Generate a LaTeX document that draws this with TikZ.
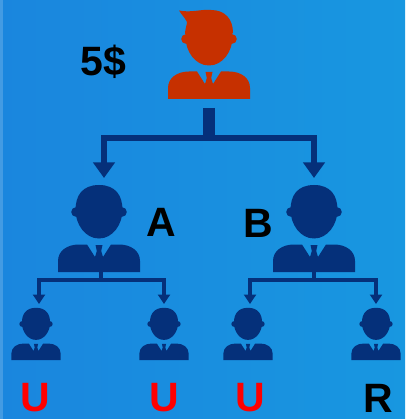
\documentclass[tikz,border=0pt]{standalone}
\usepackage{fontspec}
\setmainfont{Liberation Sans}
\usetikzlibrary{arrows.meta}
\definecolor{navy}{HTML}{05307A}
\definecolor{rust}{HTML}{C63000}
\definecolor{bgL}{HTML}{1A86DE}
\definecolor{bgR}{HTML}{1897E0}
\definecolor{wrong}{HTML}{FF0000}
\tikzset{
  personbody/.pic={
    \fill (0,-27) .. controls (17,-27) and (23.5,-16) .. (23.5,-2)
      .. controls (23.5,12) and (14,26.5) .. (0,26.5)
      .. controls (-14,26.5) and (-23.5,12) .. (-23.5,-2)
      .. controls (-23.5,-16) and (-17,-27) .. (0,-27) -- cycle;
    \fill (-23,0) circle (4.8);
    \fill (23,0) circle (4.8);
    \fill (-41,60) -- (-41,49) .. controls (-41,39) and (-32,32.5) .. (-20,32.5)
      -- (-12,32.5) -- (-4,45) -- (-2.2,39) -- (-3.5,33) -- (3.5,33) -- (2.2,39)
      -- (4,45) -- (12,32.5) -- (20,32.5) .. controls (32,32.5) and (41,39) .. (41,49)
      -- (41,60) -- cycle;
  },
  hairtuft/.pic={
    \fill (-30,-28.5) .. controls (-18,-26) and (-8,-30) .. (2,-29)
      .. controls (16,-29) and (24,-20) .. (24,-6) -- (-24,-5)
      .. controls (-24,-10) and (-22,-14) .. (-22,-17) .. controls (-24,-21) and (-28,-25) .. (-30,-28.5) -- cycle;
  },
  stemline/.style={draw=navy,line cap=butt,line join=miter},
  thick1/.style={stemline,line width=6.5pt},
  thick2/.style={stemline,line width=4pt},
  tipa/.style={-{Triangle[length=15.5pt,width=21pt]}},
  tipb/.style={-{Triangle[length=9.5pt,width=12pt]}},
  labelb/.style={font=\fontsize{41}{41}\selectfont\bfseries,text=black,inner sep=0pt},
  labelu/.style={font=\fontsize{41}{41}\selectfont\bfseries,text=wrong,inner sep=0pt},
}
\begin{document}
\begin{tikzpicture}[x=1pt,y=-1pt]
\useasboundingbox (0,0) rectangle (405,419);
\shade[left color=bgL,right color=bgR] (0,0) rectangle (405,419);
\fill[white,opacity=.18] (0,0) rectangle (2.5,419);
% persons
\pic[fill=rust] at (209,39) {personbody};
\pic[fill=rust] at (209,39) {hairtuft};
\pic[fill=navy] at (99,212) {personbody};
\pic[fill=navy] at (314,212) {personbody};
\pic[fill=navy,scale=.6] at (36,324) {personbody};
\pic[fill=navy,scale=.6] at (164,324) {personbody};
\pic[fill=navy,scale=.6] at (248,324) {personbody};
\pic[fill=navy,scale=.6] at (376,324) {personbody};
% anchors
\coordinate (topout) at (209,108);
\coordinate (topjoin) at (209,138);
\coordinate (ain) at (104,178);
\coordinate (bin) at (314,178);
\coordinate (aout) at (101,262);
\coordinate (ajoin) at (101,280);
\coordinate (bout) at (314,262);
\coordinate (bjoin) at (314,280);
\coordinate (c1) at (39,304);
\coordinate (c2) at (164,304);
\coordinate (c3) at (250,304);
\coordinate (c4) at (376,304);
% connectors
\draw[stemline,line width=12pt] (topout) -- ([yshift=3pt]topjoin);
\draw[thick1,tipa] (topjoin) -| (ain);
\draw[thick1,tipa] (topjoin) -| (bin);
\draw[thick2] (aout) -- (ajoin);
\draw[thick2] (bout) -- (bjoin);
\draw[thick2,tipb] (ajoin) -| (c1);
\draw[thick2,tipb] (ajoin) -| (c2);
\draw[thick2,tipb] (bjoin) -| (c3);
\draw[thick2,tipb] (bjoin) -| (c4);
% labels
\node[labelb] (price) at (103.5,62) {5\$};
\node[labelb] (la) at (161,222) {A};
\node[labelb] (lb) at (258,223.5) {B};
\node[labelu] (u1) at (35,398) {U};
\node[labelu] (u2) at (164,398) {U};
\node[labelu] (u3) at (250,398) {U};
\node[labelb] (r1) at (378,398) {R};
\end{tikzpicture}
\end{document}
